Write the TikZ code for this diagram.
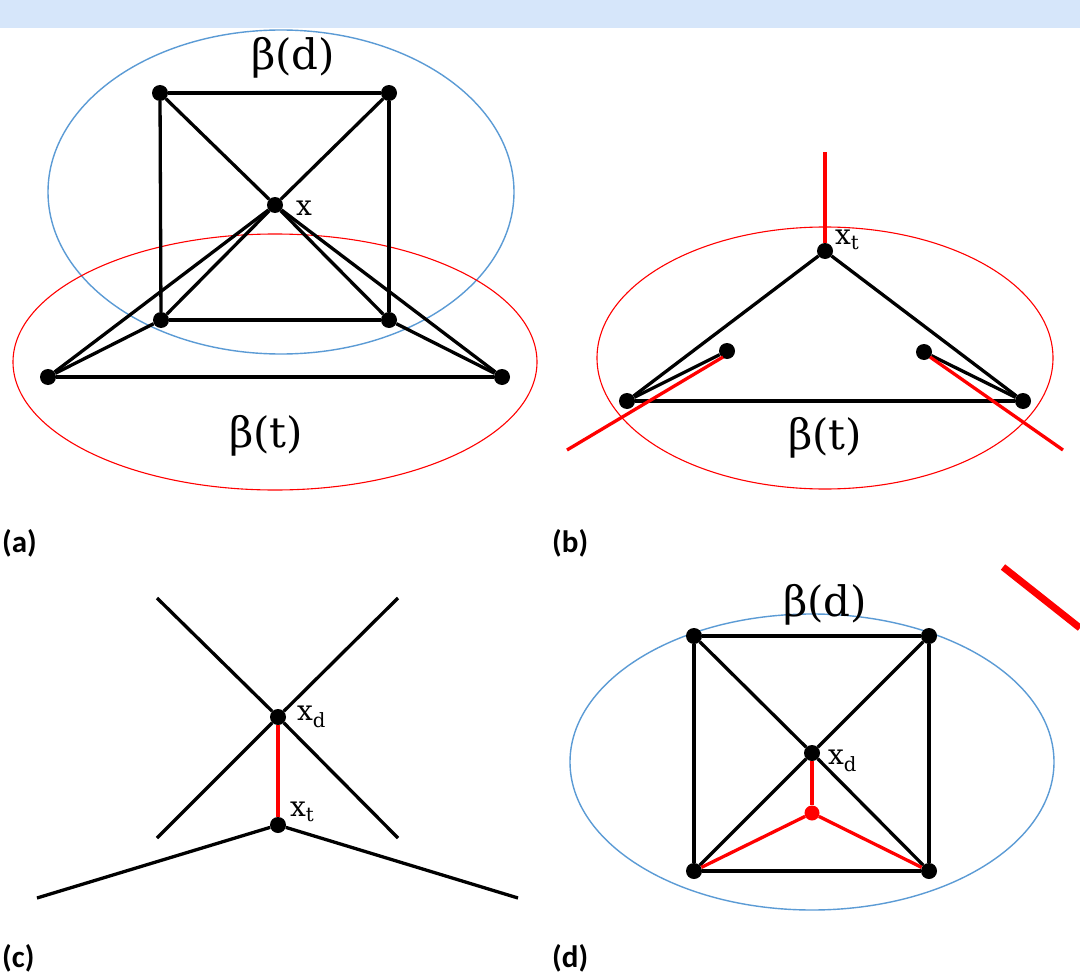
\documentclass[tikz,border=0pt]{standalone}
\usepackage{fontspec}
\setmainfont{DejaVu Serif}
\newfontfamily\labfont{Carlito}
\definecolor{band}{HTML}{D6E6FA}
\definecolor{ellblue}{HTML}{5B9BD5}
\definecolor{ellred}{HTML}{FF0000}
\tikzset{
  dot/.style={circle,fill=black,draw=none,inner sep=0pt,minimum size=16pt},
  rdot/.style={circle,fill=red,draw=none,inner sep=0pt,minimum size=15pt},
  blkln/.style={line width=3.3pt,black},
  redln/.style={line width=3.3pt,red},
  bell/.style={draw=ellblue,line width=1.4pt},
  rell/.style={draw=ellred,line width=1.1pt},
  bigtxt/.style={font=\fontsize{42}{46}\selectfont},
  lbl/.style={font=\fontsize{28}{30}\selectfont,inner sep=0pt},
  panellab/.style={font=\labfont\bfseries\fontsize{31}{34}\selectfont,inner sep=0pt,anchor=west}
}
\begin{document}
\begin{tikzpicture}[x=1pt,y=-1pt]
\useasboundingbox (0,0) rectangle (1080,974);
\fill[white] (0,0) rectangle (1080,974);
\fill[band] (0,0) rectangle (1080,28);

% ---------- (a) ----------
\draw[bell] (281,192) ellipse [x radius=233pt, y radius=162pt];
\draw[rell] (275,362) ellipse [x radius=262pt, y radius=128pt];
\node[dot] (aTL) at (160,93) {};
\node[dot] (aTR) at (389,93) {};
\node[dot] (aX) at (275,205) {};
\node[dot] (aBL) at (161,320) {};
\node[dot] (aBR) at (389,320) {};
\node[dot] (aFL) at (48,377) {};
\node[dot] (aFR) at (502,377) {};
\draw[blkln] (aTL) -- (aTR);
\draw[blkln] (aTL) -- (aBL);
\draw[blkln] (aTR) -- (aBR);
\draw[blkln] (aBL) -- (aBR);
\draw[blkln] (aTL) -- (aX);
\draw[blkln] (aX) -- (aBR);
\draw[blkln] (aTR) -- (aX);
\draw[blkln] (aX) -- (aBL);
\draw[blkln] (aFL) -- (aFR);
\draw[blkln] (aFL) -- (aX);
\draw[blkln] (aFR) -- (aX);
\draw[blkln] (aFL) -- (aBL);
\draw[blkln] (aFR) -- (aBR);
\node[bigtxt] (abd) at (293,58) {β(d)};
\node[bigtxt] (abt) at (266,436) {β(t)};
\node[lbl,anchor=west] (axl) at (296,208) {x};
\node[panellab] (ca) at (2,543) {(a)};

% ---------- (b) ----------
\draw[rell] (825,358) ellipse [x radius=228pt, y radius=131pt];
\node[dot] (bT) at (825,251) {};
\node[dot] (bL) at (627,401) {};
\node[dot] (bR) at (1023,401) {};
\node[dot] (bLi) at (727,351) {};
\node[dot] (bRi) at (924,352) {};
\coordinate (bTop) at (825,152);
\coordinate (bLo) at (567,450);
\coordinate (bLe) at (723,357);
\coordinate (bRo) at (1063,450);
\coordinate (bRe) at (930,357);
\draw[blkln] (bT) -- (bL);
\draw[blkln] (bT) -- (bR);
\draw[blkln] (bL) -- (bR);
\draw[blkln] (bL) -- (bLi);
\draw[blkln] (bR) -- (bRi);
\draw[redln] (bTop) -- (bT);
\draw[redln] (bLo) -- (bLe);
\draw[redln] (bRo) -- (bRe);
\node[bigtxt] (bbt) at (825,438) {β(t)};
\node[lbl,anchor=west] (bxl) at (835,240) {x\textsubscript{t}};
\node[panellab] (cb) at (552,543) {(b)};

% ---------- (c) ----------
\node[dot] (cD) at (278,717) {};
\node[dot] (cT) at (278,825) {};
\coordinate (c1) at (157,598);
\coordinate (c2) at (398,838);
\coordinate (c3) at (398,598);
\coordinate (c4) at (157,838);
\coordinate (c5) at (37,898);
\coordinate (c6) at (518,898);
\draw[blkln] (c1) -- (cD);
\draw[blkln] (cD) -- (c2);
\draw[blkln] (c3) -- (cD);
\draw[blkln] (cD) -- (c4);
\draw[blkln] (c5) -- (cT);
\draw[blkln] (cT) -- (c6);
\draw[redln] (cD) -- (cT);
\node[lbl,anchor=west] (cxd) at (297,717) {x\textsubscript{d}};
\node[lbl,anchor=west] (cxt) at (290,812) {x\textsubscript{t}};
\node[panellab] (cc) at (2,958) {(c)};

% ---------- (d) ----------
\draw[bell] (812,762) ellipse [x radius=242pt, y radius=148pt];
\node[dot] (dTL) at (694,636) {};
\node[dot] (dTR) at (929,636) {};
\node[dot] (dBL) at (694,871) {};
\node[dot] (dBR) at (929,871) {};
\node[dot] (dX) at (812,753) {};
\node[rdot] (dR) at (812,813) {};
\draw[blkln] (dTL) -- (dTR);
\draw[blkln] (dTL) -- (dBL);
\draw[blkln] (dTR) -- (dBR);
\draw[blkln] (dBL) -- (dBR);
\draw[blkln] (dTL) -- (dX);
\draw[blkln] (dX) -- (dBR);
\draw[blkln] (dTR) -- (dX);
\draw[blkln] (dX) -- (dBL);
\draw[redln] (dX) -- (dR);
\draw[redln] (dR) -- (dBL);
\draw[redln] (dR) -- (dBR);
\node[bigtxt] (dbd) at (825,605) {β(d)};
\node[lbl,anchor=west] (dxd) at (828,761) {x\textsubscript{d}};
\node[panellab] (cd) at (552,958) {(d)};

% ---------- stray red stroke ----------
\coordinate (s1) at (1003,567);
\coordinate (s2) at (1080,628);
\draw[red,line width=7pt] (s1) -- (s2);
\end{tikzpicture}
\end{document}
